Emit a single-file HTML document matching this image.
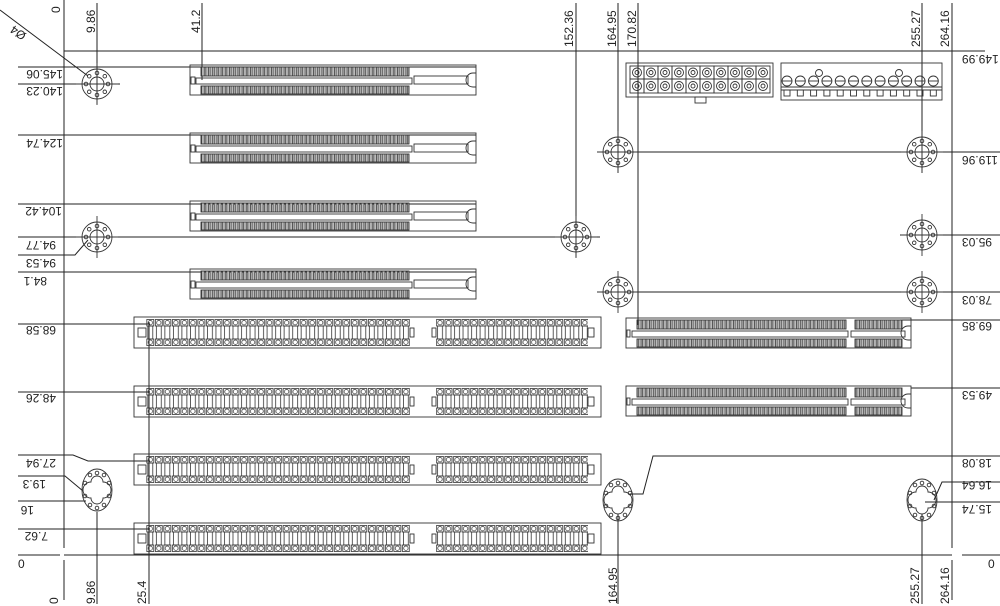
<!DOCTYPE html>
<html><head><meta charset="utf-8"><style>
html,body{margin:0;padding:0;background:#fff;}
svg{display:block;}
text{font-family:"Liberation Sans",sans-serif;font-size:12px;fill:#222;}
</style></head><body>
<svg width="1000" height="606" viewBox="0 0 1000 606" xmlns="http://www.w3.org/2000/svg">
<defs>
<pattern id="pci" x="201" y="0" width="4.2" height="200" patternUnits="userSpaceOnUse">
<rect x="0.6" y="0" width="2.8" height="200" fill="#bbb" stroke="#333" stroke-width="0.8"/>
</pattern>
<pattern id="isa" x="146" y="0" width="8.52" height="31" patternUnits="userSpaceOnUse">
<rect x="0.8" y="2.5" width="7" height="6.5" fill="none" stroke="#333" stroke-width="0.8"/>
<circle cx="4.3" cy="5.7" r="2.2" fill="none" stroke="#333" stroke-width="0.7"/>
<rect x="1.8" y="9" width="5" height="13" fill="none" stroke="#333" stroke-width="0.8"/>
<rect x="0.8" y="22" width="7" height="6.5" fill="none" stroke="#333" stroke-width="0.8"/>
<circle cx="4.3" cy="25.2" r="2.2" fill="none" stroke="#333" stroke-width="0.7"/>
</pattern>
<g id="hole" fill="none" stroke="#333" stroke-width="0.9">
<circle r="15"/><circle r="7"/>
<circle cx="0" cy="-11" r="1.8"/><circle cx="7.8" cy="-7.8" r="1.8"/><circle cx="11" cy="0" r="1.8"/><circle cx="7.8" cy="7.8" r="1.8"/>
<circle cx="0" cy="11" r="1.8"/><circle cx="-7.8" cy="7.8" r="1.8"/><circle cx="-11" cy="0" r="1.8"/><circle cx="-7.8" cy="-7.8" r="1.8"/>
<line x1="-21" y1="0" x2="21" y2="0"/><line x1="0" y1="-21" x2="0" y2="21"/>
</g>
<g id="oval" fill="none" stroke="#333" stroke-width="0.9">
<ellipse rx="15" ry="21"/>
<path d="M-6,-8 a6,6 0 0 1 12,0 a6,6 0 0 1 0,16 a6,6 0 0 1 -12,0 a6,6 0 0 1 0,-16 z"/>
<circle cx="0" cy="-17" r="1.8"/><circle cx="7" cy="-15" r="1.8"/><circle cx="-7" cy="-15" r="1.8"/>
<circle cx="12" cy="-7" r="1.8"/><circle cx="-12" cy="-7" r="1.8"/><circle cx="12" cy="6" r="1.8"/><circle cx="-12" cy="6" r="1.8"/>
<circle cx="7" cy="15" r="1.8"/><circle cx="-7" cy="15" r="1.8"/><circle cx="0" cy="18" r="1.8"/>
</g>
<g id="pcislot" fill="none" stroke="#333" stroke-width="0.9">
<rect x="190" y="0" width="286" height="30"/>
<rect x="201" y="2" width="208" height="9" fill="url(#pci)"/>
<rect x="201" y="21" width="208" height="8" fill="url(#pci)"/>
<rect x="196" y="13" width="216" height="6"/>
<rect x="414" y="11" width="54" height="8"/>
<rect x="191" y="12" width="4" height="7"/>
<path d="M476,8 h-3 a4,4 0 0 0 0,14 h3"/>
</g>
<g id="isaslot" fill="none" stroke="#333" stroke-width="0.9">
<rect x="134" y="0" width="467" height="31"/>
<rect x="146" y="2" width="264" height="27" fill="url(#isa)" stroke="none"/>
<rect x="436" y="2" width="152" height="27" fill="url(#isa)" stroke="none"/>
<rect x="138" y="11" width="8" height="9"/><rect x="410" y="11" width="4" height="9"/>
<rect x="432" y="11" width="4" height="9"/><rect x="588" y="11" width="6" height="9"/>
</g>
<g id="rslot" fill="none" stroke="#333" stroke-width="0.9">
<rect x="626" y="0" width="285" height="30"/>
<rect x="637" y="2" width="209" height="9" fill="url(#pci)"/>
<rect x="637" y="21" width="209" height="8" fill="url(#pci)"/>
<rect x="855" y="2" width="47" height="9" fill="url(#pci)"/>
<rect x="855" y="21" width="47" height="8" fill="url(#pci)"/>
<rect x="632" y="13" width="216" height="6"/><rect x="851" y="13" width="54" height="6"/>
<rect x="627" y="12" width="3" height="7"/>
<path d="M911,8 h-3 a4,4 0 0 0 0,14 h3"/>
</g>
</defs>

<g stroke="#222" stroke-width="1" fill="none">
<line x1="64" y1="51" x2="985" y2="51"/>
<line x1="64" y1="0" x2="64" y2="548"/><line x1="64" y1="560" x2="64" y2="600"/>
<line x1="952" y1="3" x2="952" y2="548"/><line x1="952" y1="560" x2="952" y2="600"/>
<line x1="18" y1="555" x2="60" y2="555"/><line x1="64" y1="555" x2="952" y2="555"/><line x1="962" y1="555" x2="1000" y2="555"/>
<line x1="97" y1="3" x2="97" y2="104"/>
<line x1="202" y1="3" x2="202" y2="80"/>
<line x1="576" y1="3" x2="576" y2="257"/>
<line x1="618" y1="3" x2="618" y2="173"/>
<line x1="638" y1="3" x2="638" y2="325"/>
<line x1="922" y1="3" x2="922" y2="173"/>
<line x1="97" y1="512" x2="97" y2="604"/>
<line x1="149" y1="322" x2="149" y2="604"/>
<line x1="618" y1="514" x2="618" y2="604"/>
<line x1="922" y1="514" x2="922" y2="604"/>
<line x1="0" y1="10" x2="88" y2="76"/>
<line x1="18" y1="67" x2="476" y2="67"/>
<line x1="18" y1="84" x2="120" y2="84"/>
<line x1="18" y1="135" x2="476" y2="135"/>
<line x1="18" y1="204" x2="476" y2="204"/>
<line x1="18" y1="237" x2="600" y2="237"/>
<polyline points="18,255 75,255 88,240"/>
<line x1="18" y1="272" x2="476" y2="272"/>
<line x1="18" y1="324" x2="150" y2="324"/>
<line x1="18" y1="392" x2="150" y2="392"/>
<polyline points="18,455 73,455 88,461 150,461"/>
<polyline points="18,476 65,476 83,491"/>
<line x1="18" y1="501" x2="86" y2="501"/>
<line x1="18" y1="529" x2="150" y2="529"/>
<line x1="598" y1="152" x2="1000" y2="152"/>
<line x1="900" y1="235" x2="1000" y2="235"/>
<line x1="598" y1="292" x2="1000" y2="292"/>
<line x1="900" y1="320" x2="1000" y2="320"/>
<line x1="911" y1="388" x2="1000" y2="388"/>
<polyline points="1000,456 653,456 643,494 630,494"/>
<polyline points="1000,482 942,482 934,500"/>
<line x1="925" y1="502" x2="1000" y2="502"/>
</g>

<use href="#hole" x="97" y="84"/>
<use href="#hole" x="97" y="237"/>
<use href="#hole" x="576" y="237"/>
<use href="#hole" x="618" y="152"/>
<use href="#hole" x="922" y="152"/>
<use href="#hole" x="922" y="235"/>
<use href="#hole" x="618" y="292"/>
<use href="#hole" x="922" y="292"/>
<use href="#oval" x="97" y="490"/>
<use href="#oval" x="618" y="500"/>
<use href="#oval" x="922" y="500"/>

<use href="#pcislot" y="65"/>
<use href="#pcislot" y="133"/>
<use href="#pcislot" y="201"/>
<use href="#pcislot" y="269"/>
<use href="#isaslot" y="317"/>
<use href="#isaslot" y="386"/>
<use href="#isaslot" y="454"/>
<use href="#isaslot" y="523"/>
<use href="#rslot" y="318"/>
<use href="#rslot" y="386"/>

<g fill="none" stroke="#333" stroke-width="0.9">
<rect x="626" y="63" width="147" height="34"/>
<rect x="695" y="97" width="11" height="6"/>
<g id="atxcol">
<rect x="630" y="66" width="14" height="13"/><circle cx="637" cy="72.5" r="4.5"/><circle cx="637" cy="72.5" r="2"/>
<rect x="630" y="79" width="14" height="14"/><circle cx="637" cy="86" r="4.5"/><circle cx="637" cy="86" r="2"/>
</g>
<use href="#atxcol" x="14"/><use href="#atxcol" x="28"/><use href="#atxcol" x="42"/><use href="#atxcol" x="56"/>
<use href="#atxcol" x="70"/><use href="#atxcol" x="84"/><use href="#atxcol" x="98"/><use href="#atxcol" x="112"/><use href="#atxcol" x="126"/>
<rect x="781" y="63" width="161" height="37"/>
<line x1="781" y1="87" x2="942" y2="87"/><line x1="781" y1="90" x2="942" y2="90"/>
<circle cx="819" cy="73" r="3.5"/><circle cx="899" cy="73" r="3.5"/>
<g id="c2">
<circle cx="787" cy="81" r="5"/><line x1="782" y1="81" x2="792" y2="81"/>
<rect x="784" y="90" width="6" height="6"/>
</g>
<use href="#c2" x="13.3"/><use href="#c2" x="26.6"/><use href="#c2" x="39.9"/><use href="#c2" x="53.2"/><use href="#c2" x="66.5"/>
<use href="#c2" x="79.8"/><use href="#c2" x="93.1"/><use href="#c2" x="106.4"/><use href="#c2" x="119.7"/><use href="#c2" x="133"/><use href="#c2" x="146.3"/>
</g>

<text transform="translate(60,13) rotate(-90)">0</text>
<text transform="translate(95,33) rotate(-90)">9.86</text>
<text transform="translate(200,33) rotate(-90)">41.2</text>
<text transform="translate(573,47) rotate(-90)">152.36</text>
<text transform="translate(616,47) rotate(-90)">164.95</text>
<text transform="translate(636,47) rotate(-90)">170.82</text>
<text transform="translate(920,47) rotate(-90)">255.27</text>
<text transform="translate(949,47) rotate(-90)">264.16</text>
<text transform="translate(27,34) rotate(215)">Ø4</text>
<text transform="translate(58,604) rotate(-90)">0</text>
<text transform="translate(95,604) rotate(-90)">9.86</text>
<text transform="translate(146,604) rotate(-90)">25.4</text>
<text transform="translate(617,604) rotate(-90)">164.95</text>
<text transform="translate(919,604) rotate(-90)">255.27</text>
<text transform="translate(949,604) rotate(-90)">264.16</text>
<text x="18" y="568">0</text>
<text x="988" y="568">0</text>
<g>
<text transform="translate(63,70) rotate(180)">145.06</text>
<text transform="translate(63,87) rotate(180)">140.23</text>
<text transform="translate(63,139) rotate(180)">124.74</text>
<text transform="translate(62,207) rotate(180)">104.42</text>
<text transform="translate(56,241) rotate(180)">94.77</text>
<text transform="translate(56,259) rotate(180)">94.53</text>
<text transform="translate(47,277) rotate(180)">84.1</text>
<text transform="translate(56,326) rotate(180)">68.58</text>
<text transform="translate(56,394) rotate(180)">48.26</text>
<text transform="translate(56,459) rotate(180)">27.94</text>
<text transform="translate(46,480) rotate(180)">19.3</text>
<text transform="translate(34,506) rotate(180)">16</text>
<text transform="translate(48,532) rotate(180)">7.62</text>
</g>
<g text-anchor="end">
<text transform="translate(962,55) rotate(180)">149.99</text>
<text transform="translate(962,156) rotate(180)">119.96</text>
<text transform="translate(962,238) rotate(180)">95.03</text>
<text transform="translate(962,296) rotate(180)">78.03</text>
<text transform="translate(962,322) rotate(180)">69.85</text>
<text transform="translate(962,391) rotate(180)">49.53</text>
<text transform="translate(962,459) rotate(180)">18.08</text>
<text transform="translate(962,481) rotate(180)">16.64</text>
<text transform="translate(962,505) rotate(180)">15.74</text>
</g>
</svg>
</body></html>
